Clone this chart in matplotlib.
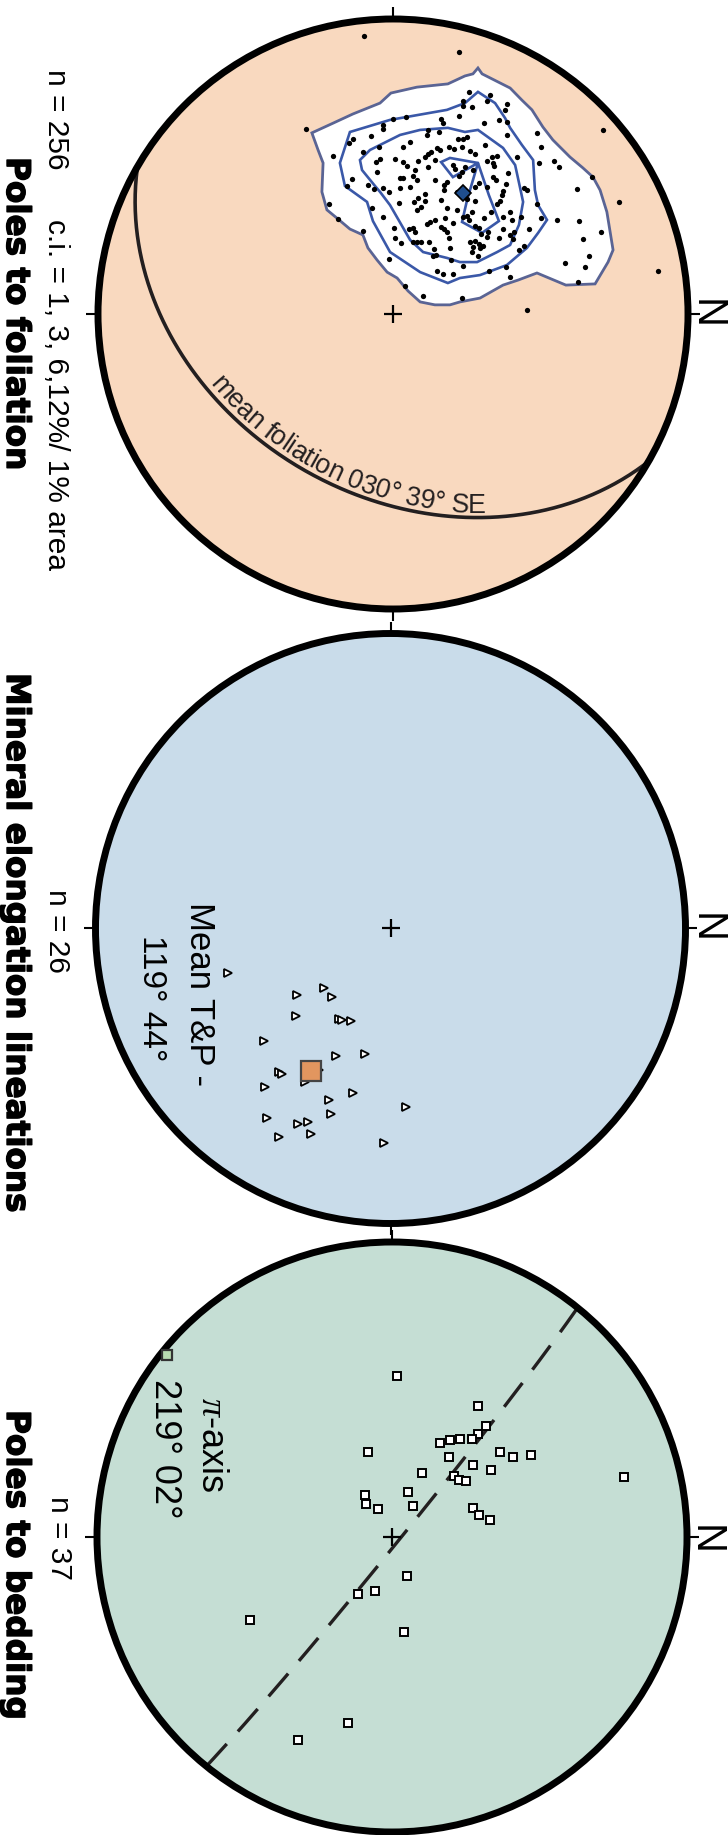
import numpy as np
import matplotlib
matplotlib.use("Agg")
import matplotlib.pyplot as plt
from matplotlib.patches import Circle, Polygon
from matplotlib.transforms import IdentityTransform
from matplotlib.font_manager import FontProperties, findfont, get_font
import matplotlib.patheffects as pe

plt.rcParams['font.family'] = ['Liberation Sans', 'DejaVu Sans']
plt.rcParams['mathtext.fontset'] = 'custom'
plt.rcParams['mathtext.it'] = 'Liberation Serif:italic'
plt.rcParams['mathtext.rm'] = 'Liberation Sans'

# ---------------- data (net coordinates, primitive radius = 1, display rotated: N to the right) ----------
FOL_X = [-0.296,-0.203,-0.136,-0.149,-0.075,-0.034,-0.034,0.000,0.044,0.163,0.169,0.224,0.237,0.119,0.156,
         0.115,0.058,0.034,-0.047,-0.102,-0.044,-0.058,0.007,0.034,0.047,0.085,0.075,0.108,0.119,0.129,
         0.149,0.159,0.190,0.207,0.220,0.237,0.142,0.119,0.203,0.210,0.224,-0.054,0.024,0.034,0.068,
         0.081,0.142,0.183,0.173,-0.139,-0.085,-0.156,-0.034,0.024,0.058,0.234,0.258,0.329,0.319,0.237,
         0.268,0.386,0.380,0.308,0.359,0.386,0.386,0.488,0.712,0.251,0.234,0.261,0.312,0.278,0.353,
         0.336,0.319,0.339,0.342,0.420,0.502,0.495,0.546,0.563,0.244,0.271,0.390,0.339,0.349,0.292,
         0.319,0.278,0.383,0.444,0.675,0.624,-0.217,-0.186,-0.102,-0.064,-0.014,0.085,0.108,0.108,0.071,
         0.020,0.095,0.081,-0.071,-0.034,0.163,0.173,0.217,0.183,0.217,0.237,0.176,0.142,0.125,0.115,
         0.203,0.163,0.173,0.183,0.003,0.054,0.068,0.075,0.007,0.027,0.068,0.081,0.095,0.122,0.139,
         0.146,0.136,0.193,0.190,0.197,0.237,-0.014,0.149,0.169,0.203,0.041,0.102,0.234,0.251,0.373,
         0.369,0.454,0.488,0.502,0.766,0.556,0.631,0.705,0.644,0.664,0.651,0.583,0.627,0.251,0.278,
         0.363,0.353,0.332,0.308,0.268,0.251,0.258,0.278,0.292,0.373,0.397,0.403,0.373,0.410,0.397,
         0.434,0.461,0.407,0.359,0.319,0.322,0.298,0.261,0.278,0.292,0.305,0.271,0.295,0.268,0.288,
         0.444,0.427,0.383,0.325,0.397,0.454,-0.098,0.224,0.898]
FOL_Y = [0.628,0.536,0.593,0.580,0.603,0.641,0.627,0.661,0.668,0.661,0.647,0.671,0.722,0.624,0.617,
         0.607,0.583,0.566,0.566,0.549,0.525,0.515,0.525,0.515,0.502,0.519,0.488,0.532,0.542,0.549,
         0.563,0.556,0.566,0.559,0.593,0.593,0.522,0.498,0.505,0.492,0.468,0.481,0.461,0.461,0.468,
         0.454,0.454,0.447,0.437,0.458,0.437,0.434,0.427,0.427,0.431,0.481,0.753,0.742,0.722,0.705,
         0.702,0.712,0.692,0.647,0.658,0.651,0.607,0.614,0.624,0.600,0.566,0.553,0.573,0.542,0.536,
         0.532,0.519,0.512,0.502,0.532,0.566,0.512,0.519,0.498,0.498,0.488,0.478,0.464,0.454,0.444,
         0.431,0.431,0.441,0.427,0.464,0.424,0.373,0.322,0.281,0.424,0.414,0.393,0.407,0.383,0.380,
         0.376,0.363,0.353,0.359,0.329,0.386,0.420,0.414,0.359,0.353,0.329,0.325,0.319,0.312,0.305,
         0.308,0.295,0.288,0.278,0.292,0.288,0.292,0.278,0.258,0.241,0.244,0.244,0.244,0.244,0.220,
         0.200,0.197,0.224,0.258,0.183,0.163,0.186,0.146,0.136,0.136,0.095,0.061,0.054,0.414,0.417,
         0.403,0.420,0.373,0.325,0.380,0.319,0.315,0.278,0.254,0.197,0.159,0.173,0.108,0.390,0.383,
         0.383,0.373,0.346,0.325,0.346,0.332,0.319,0.298,0.292,0.329,0.346,0.319,0.288,0.278,0.268,
         0.329,0.288,0.254,0.258,0.261,0.278,0.271,0.244,0.247,0.237,0.231,0.227,0.224,0.210,0.197,
         0.231,0.217,0.159,0.146,0.125,0.014,0.942,0.888,0.146]

# density contours (1, 3, 6, 12 % per 1 % area)
C1_X = [-0.275,-0.203,-0.136,-0.044,-0.007,0.081,0.186,0.244,0.271,0.288,0.302,0.397,0.437,0.471,0.508,
        0.542,0.600,0.644,0.678,0.702,0.725,0.746,0.729,0.685,0.586,0.488,0.424,0.373,0.295,0.227,
        0.193,0.142,0.092,0.051,0.014,-0.020,-0.054,-0.085,-0.102,-0.146,-0.190,-0.224,-0.241,-0.237,-0.254]
C1_Y = [0.614,0.647,0.678,0.715,0.749,0.769,0.780,0.807,0.814,0.834,0.814,0.766,0.725,0.692,0.634,
        0.590,0.532,0.495,0.464,0.420,0.346,0.217,0.176,0.102,0.098,0.139,0.115,0.098,0.054,0.041,
        0.031,0.031,0.041,0.078,0.122,0.142,0.183,0.224,0.268,0.288,0.325,0.353,0.414,0.512,0.556]
C3_X = [-0.180,-0.146,-0.010,0.183,0.244,0.288,0.346,0.380,0.397,0.437,0.475,0.481,0.492,0.522,0.492,
        0.454,0.386,0.295,0.227,0.186,0.092,-0.010,-0.068,-0.088,-0.163]
C3_Y = [0.512,0.617,0.658,0.692,0.715,0.753,0.715,0.664,0.631,0.573,0.522,0.420,0.369,0.319,0.275,
        0.224,0.166,0.132,0.122,0.105,0.142,0.210,0.315,0.380,0.434]
C6_X = [-0.112,-0.078,0.024,0.092,0.186,0.244,0.288,0.373,0.414,0.431,0.441,0.427,0.397,0.353,0.285,
        0.227,0.183,0.102,0.058,-0.010,-0.044,-0.061,-0.105]
C6_Y = [0.522,0.556,0.607,0.624,0.631,0.617,0.624,0.563,0.505,0.427,0.380,0.302,0.234,0.210,0.176,
        0.176,0.190,0.210,0.251,0.369,0.414,0.434,0.488]
C12_X = [0.163,0.193,0.288,0.325,0.359,0.302,0.234,0.251,0.281,0.288,0.203,0.163]
C12_Y = [0.515,0.529,0.512,0.403,0.315,0.275,0.312,0.386,0.488,0.512,0.464,0.515]

MEAN_FOL_STRIKE, MEAN_FOL_DIP = 30, 39

LIN_X = [-0.551,-0.225,-0.198,-0.317,-0.320,-0.175,-0.164,-0.134,-0.429,-0.185,-0.086,-0.378,-0.368,
         -0.242,-0.290,-0.425,-0.127,-0.208,0.053,-0.419,-0.202,-0.314,-0.280,-0.269,-0.378,-0.022]
LIN_Y = [-0.151,-0.202,-0.232,-0.225,-0.297,-0.307,-0.310,-0.314,-0.381,-0.432,-0.425,-0.486,-0.493,
         -0.480,-0.520,-0.537,-0.558,-0.581,-0.605,-0.642,-0.629,-0.663,-0.656,-0.697,-0.707,-0.727]
MEAN_LIN_TREND, MEAN_LIN_PLUNGE = 119, 44

BED_X = [0.017,0.292,0.319,0.292,0.271,0.231,0.197,0.163,0.193,0.366,0.410,0.471,-0.081,0.275,0.336,
         0.102,0.210,0.227,0.251,0.054,-0.092,-0.088,-0.047,0.071,0.275,0.295,0.332,0.786,0.051,-0.058,
         -0.115,-0.481,0.041,-0.149,-0.319]
BED_Y = [0.546,0.444,0.376,0.349,0.332,0.332,0.329,0.319,0.271,0.288,0.271,0.278,0.288,0.244,0.227,
         0.217,0.207,0.193,0.190,0.153,0.142,0.112,0.095,0.105,0.098,0.075,0.058,0.203,-0.132,-0.183,
         -0.193,-0.281,-0.322,-0.631,-0.688]
PI_TREND, PI_PLUNGE = 219, 2

TITLES = ["Poles to foliation", "Mineral elongation lineations", "Poles to bedding"]
N_LABELS = ["n = 256", "n = 26", "n = 37"]
CI_LABEL = "c.i. = 1, 3, 6,12%/ 1% area"
FOL_LABEL = "mean foliation 030° 39° SE"
LIN_LABELS = ["Mean T&P -", "119° 44°"]
PI_LABELS = ["$\\pi$-axis", "219° 02°"]

# ---------------- helpers ----------------
NORTH_ROT = 90.0  # display rotation: north points to the right


def project(trend, plunge):
    trend = np.asarray(trend, float)
    plunge = np.asarray(plunge, float)
    r = np.sqrt(2.0) * np.sin(np.radians(90.0 - plunge) / 2.0)
    az = np.radians(trend + NORTH_ROT)
    return r * np.sin(az), r * np.cos(az)


def plane_curve(strike, dip, n=361):
    t = np.radians(np.linspace(0, 180, n))
    s = np.radians(strike)
    dd = np.radians(strike + 90)
    d = np.radians(dip)
    sv = np.array([np.cos(s), np.sin(s), 0.0])
    dv = np.array([np.cos(dd) * np.cos(d), np.sin(dd) * np.cos(d), np.sin(d)])
    v = np.outer(np.cos(t), sv) + np.outer(np.sin(t), dv)
    tr = np.degrees(np.arctan2(v[:, 1], v[:, 0]))
    pl = np.degrees(np.arcsin(np.clip(v[:, 2], -1, 1)))
    return project(tr, pl)


W, H, DPI = 728, 1835, 100
R_PX = 295.0
LIM = 1.1
fig = plt.figure(figsize=(W / DPI, H / DPI), dpi=DPI)
fig.patch.set_facecolor('white')


def make_net(cx, cy, face):
    side = 2 * LIM * R_PX
    ax = fig.add_axes([(cx - side / 2) / W, 1 - (cy + side / 2) / H, side / W, side / H])
    ax.set_xlim(-LIM, LIM)
    ax.set_ylim(-LIM, LIM)
    ax.set_aspect('equal')
    ax.axis('off')
    ax.add_patch(Circle((0, 0), 1, facecolor=face, edgecolor='none', zorder=0))
    ax.add_patch(Circle((0, 0), 1, facecolor='none', edgecolor='black', lw=5, zorder=10))
    for a in np.radians([0, 90, 180, 270]):
        ax.plot([np.sin(a) * 1.0, np.sin(a) * 1.04], [np.cos(a) * 1.0, np.cos(a) * 1.04],
                color='black', lw=1.5, solid_capstyle='butt', zorder=10)
    ax.plot(0, 0, '+', ms=13, mew=1.6, color='black', zorder=9)
    return ax


def vtext(x_px, y_px, s, size, ha='left', family=None, weight='normal', stroke=0.0):
    kw = {}
    if family is not None:
        kw['family'] = family
    if stroke > 0:
        kw['path_effects'] = [pe.withStroke(linewidth=stroke, foreground='black')]
    fig.text(x_px / W, 1 - y_px / H, s, rotation=-90, rotation_mode='anchor', ha=ha,
             va='baseline', fontsize=size, fontweight=weight, color='black', **kw)


def curved_text(ax, xs, ys, text, start, offset_px, size, color='#231f20'):
    disp = ax.transData.transform(np.column_stack([xs, ys]))
    seg = np.hypot(np.diff(disp[:, 0]), np.diff(disp[:, 1]))
    cum = np.concatenate([[0.0], np.cumsum(seg)])
    sp = ax.transData.transform([start])[0]
    i0 = np.argmin(np.hypot(disp[:, 0] - sp[0], disp[:, 1] - sp[1]))
    pos = cum[i0]
    fp = FontProperties(family='Liberation Sans', size=size)
    font = get_font(findfont(fp))
    font.set_size(size, DPI)
    for ch in text:
        adv = font.load_char(ord(ch)).linearHoriAdvance / 65536.0
        mid = pos + adv / 2.0
        x = np.interp(mid, cum, disp[:, 0])
        y = np.interp(mid, cum, disp[:, 1])
        k = int(np.clip(np.searchsorted(cum, mid), 1, len(cum) - 1))
        dx, dy = disp[k] - disp[k - 1]
        ln = np.hypot(dx, dy)
        nx, ny = -dy / ln, dx / ln
        ang = np.degrees(np.arctan2(dy, dx))
        ax.text(x + nx * offset_px, y + ny * offset_px, ch, transform=IdentityTransform(),
                rotation=ang, rotation_mode='anchor', ha='center', va='baseline',
                fontproperties=fp, color=color, zorder=8)
        pos += adv


# ---------------- net 1 : poles to foliation ----------------
ax1 = make_net(393, 314, '#F9D9BF')
ax1.add_patch(Polygon(np.column_stack([C1_X, C1_Y]), closed=True, facecolor='white',
                      edgecolor='#5A6494', lw=2.0, zorder=1))
for cx_, cy_ in [(C3_X, C3_Y), (C6_X, C6_Y), (C12_X, C12_Y)]:
    ax1.add_patch(Polygon(np.column_stack([cx_, cy_]), closed=True, facecolor='none',
                          edgecolor='#3A58A8', lw=1.9, zorder=2))
ax1.plot(FOL_X, FOL_Y, 'o', ms=3.8, color='black', mew=0, zorder=3)
gx, gy = plane_curve(MEAN_FOL_STRIKE, MEAN_FOL_DIP)
ax1.plot(gx, gy, color='#231f20', lw=2.6, zorder=4)
px, py = project(MEAN_FOL_STRIKE - 90, 90 - MEAN_FOL_DIP)
ax1.plot(px, py, 'D', ms=8, mfc='#1F4E8E', mec='black', mew=1.2, zorder=6)
curved_text(ax1, gx[::-1], gy[::-1], FOL_LABEL, (-0.60, -0.22), 5, 19.3)

vtext(7, 157, TITLES[0], 23.5, family='DejaVu Sans', weight='bold', stroke=1.0)
vtext(48, 69, N_LABELS[0], 21.5)
vtext(48, 219, CI_LABEL, 21.5)
vtext(695, 314, 'N', 30, ha='center')

# ---------------- net 2 : mineral elongation lineations ----------------
ax2 = make_net(390.5, 928.5, '#C9DCEA')
ax2.plot(LIN_X, LIN_Y, '>', ms=6, mfc='white', mec='black', mew=1.3, zorder=3)
mx, my = project(MEAN_LIN_TREND, MEAN_LIN_PLUNGE)
ax2.plot(mx, my, 's', ms=15, mfc='#E2965F', mec='#444444', mew=1.6, zorder=6)
vtext(7, 673, TITLES[1], 23.5, family='DejaVu Sans', weight='bold', stroke=1.0)
vtext(49, 931, N_LABELS[1], 21.5, ha='center')
vtext(190, 902, LIN_LABELS[0], 25)
vtext(143, 935, LIN_LABELS[1], 24)
vtext(695, 928, 'N', 30, ha='center')

# ---------------- net 3 : poles to bedding ----------------
ax3 = make_net(392, 1537, '#C5DED4')
bx, by = plane_curve(PI_TREND + 90, 90 - PI_PLUNGE)
ax3.plot(bx, by, color='#231f20', lw=2.4, dashes=(9, 5), zorder=4)
ax3.plot(BED_X, BED_Y, 's', ms=5.2, mfc='white', mec='black', mew=1.4, zorder=5)
qx, qy = project(PI_TREND, PI_PLUNGE)
ax3.plot(qx, qy, 's', ms=7.5, mfc='#B8DCB0', mec='#333333', mew=1.6, zorder=11)
vtext(7, 1410, TITLES[2], 23.5, family='DejaVu Sans', weight='bold', stroke=1.0)
vtext(51, 1538, N_LABELS[2], 21.5, ha='center')
vtext(202, 1397, PI_LABELS[0], 26)
vtext(155, 1379, PI_LABELS[1], 26)
vtext(694, 1540, 'N', 30, ha='center')

fig.savefig('out.png', dpi=DPI, facecolor='white')
